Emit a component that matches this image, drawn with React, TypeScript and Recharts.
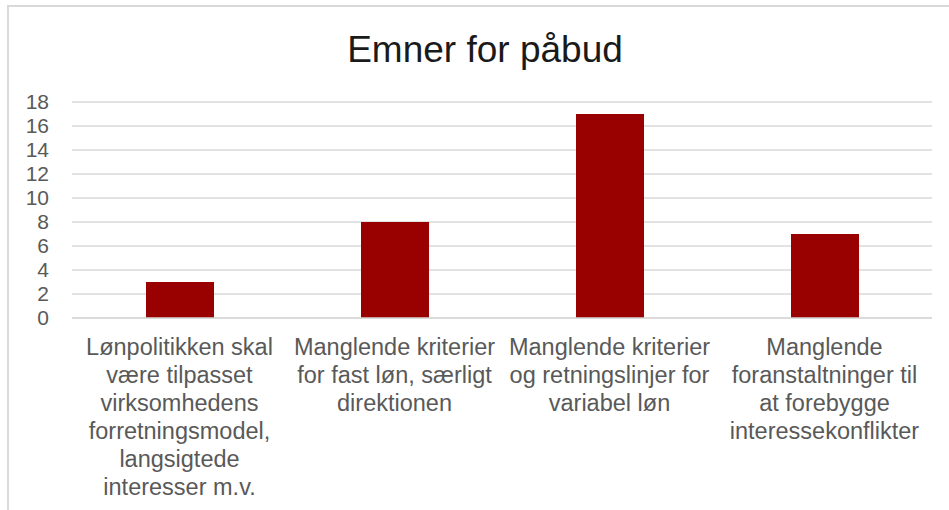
import { BarChart, Bar, XAxis, YAxis, CartesianGrid } from "recharts";

const categories = [
  "Lønpolitikken skal\nvære tilpasset\nvirksomhedens\nforretningsmodel,\nlangsigtede\ninteresser m.v.",
  "Manglende kriterier\nfor fast løn, særligt\ndirektionen",
  "Manglende kriterier\nog retningslinjer for\nvariabel løn",
  "Manglende\nforanstaltninger til\nat forebygge\ninteressekonflikter",
];
const counts = [3, 8, 17, 7];
const yTicks = [0, 2, 4, 6, 8, 10, 12, 14, 16, 18];

const data = categories.map((name, i) => ({ name, value: counts[i] }));

const FONT = "'Liberation Sans', Arial, sans-serif";

const CategoryTick = ({ x, y, payload }: any) => {
  const lines = String(payload.value).split("\n");
  return (
    <text x={x} y={y} textAnchor="middle" fill="#595959" fontSize={23.5} fontFamily={FONT}>
      {lines.map((line, i) => (
        <tspan key={i} x={x} dy={i === 0 ? 37 : 28}>
          {line}
        </tspan>
      ))}
    </text>
  );
};

export default function App() {
  return (
    <div
      style={{
        position: "absolute",
        left: 0,
        top: 0,
        width: 949,
        height: 510,
        overflow: "hidden",
        background: "#fff",
        fontFamily: FONT,
      }}
    >
      <div
        style={{
          position: "absolute",
          left: 7,
          top: 5,
          width: 980,
          height: 540,
          border: "2px solid #d9d9d9",
        }}
      />
      <div
        style={{
          position: "absolute",
          left: 0,
          top: 30,
          width: 970,
          textAlign: "center",
          fontSize: 37,
          lineHeight: "40px",
          color: "#1a1a1a",
        }}
      >
        Emner for påbud
      </div>
      <div style={{ position: "absolute", left: 0, top: 0 }}>
        <BarChart
          width={949}
          height={510}
          data={data}
          margin={{ top: 102, right: 17, bottom: 0, left: 0 }}
          barCategoryGap={0}
        >
          <CartesianGrid vertical={false} stroke="#d9d9d9" strokeWidth={1.5} />
          <XAxis
            dataKey="name"
            height={192}
            interval={0}
            tickLine={false}
            tickSize={0}
            tickMargin={0}
            axisLine={{ stroke: "#d9d9d9", strokeWidth: 1.5 }}
            tick={<CategoryTick />}
          />
          <YAxis
            width={72}
            domain={[0, 18]}
            ticks={yTicks}
            interval={0}
            axisLine={false}
            tickLine={false}
            tickSize={0}
            tickMargin={23}
            tick={{ fill: "#595959", fontSize: 21, fontFamily: FONT }}
          />
          <Bar dataKey="value" fill="#990000" barSize={68} isAnimationActive={false} />
        </BarChart>
      </div>
    </div>
  );
}
